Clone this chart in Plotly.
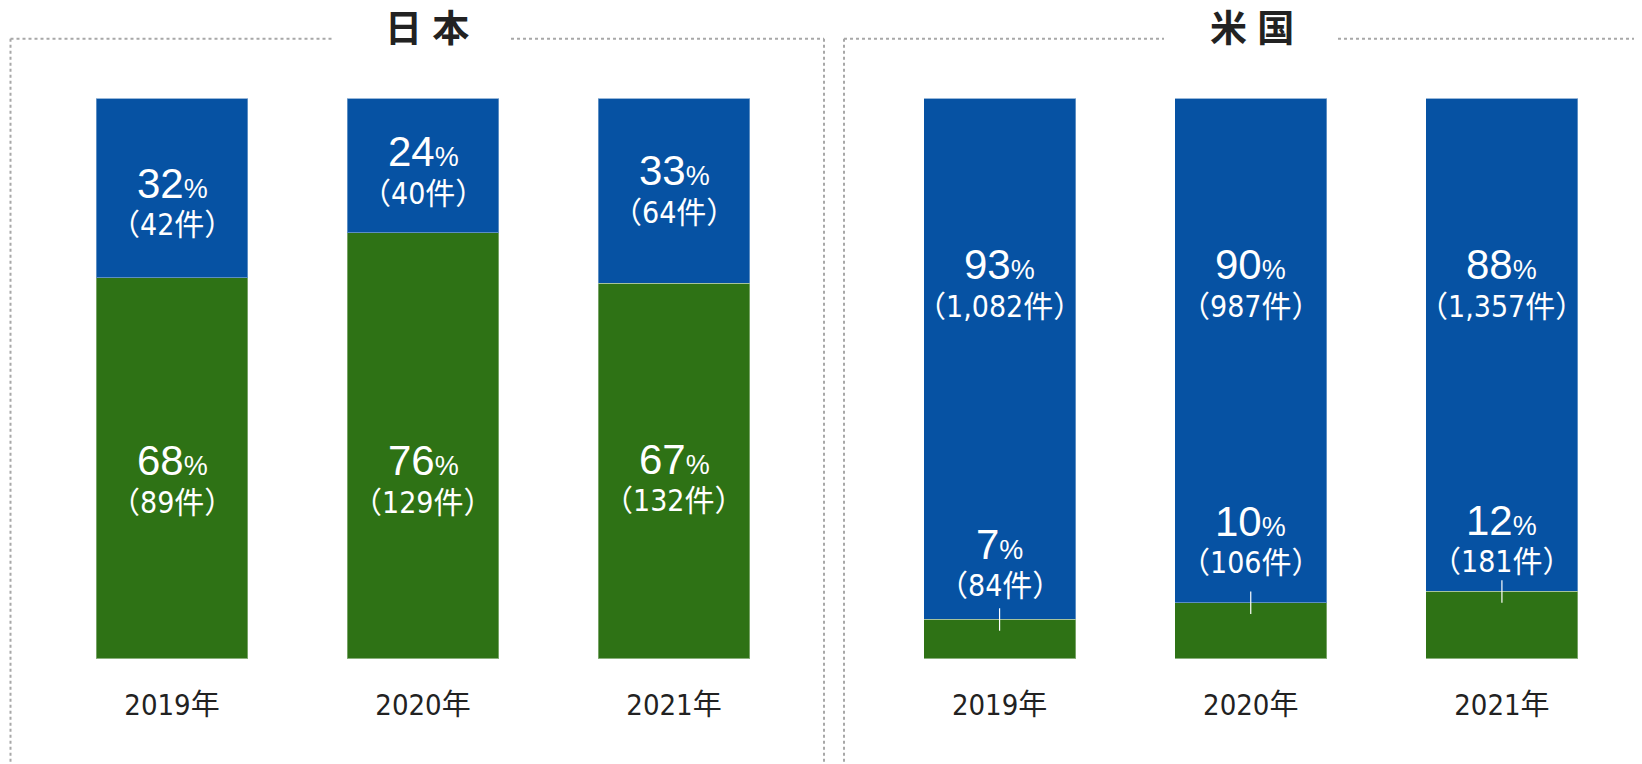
import plotly.graph_objects as go

# ---------------- data ----------------
years = ["2019年", "2020年", "2021年"]
jp_green_pct = [68, 76, 67]
jp_green_cnt = [89, 129, 132]
jp_blue_pct = [32, 24, 33]
jp_blue_cnt = [42, 40, 64]
us_green_pct = [7, 10, 12]
us_green_cnt = [84, 106, 181]
us_blue_pct = [93, 90, 88]
us_blue_cnt = [1082, 987, 1357]

# ---------------- label placement (layout only) ----------------
jp_green_label_y = [35.3, 35.3, 35.6]
jp_blue_label_y = [84.9, 90.5, 87.1]
us_blue_label_y = [70.3, 70.3, 70.3]
us_green_label_y = [20.4, 24.5, 24.7]
LINE_GAP = 7.4

GREEN = "#2E7215"
BLUE = "#0652A3"
FONT = "Liberation Sans, Arial, Noto Sans CJK JP, sans-serif"
NARROW = "Liberation Sans Narrow, Arial Narrow, DejaVu Sans Condensed, Noto Sans CJK JP, sans-serif"
W, H = 1642, 764
OFF = 8  # page body margin


def px(x):
    return (x - OFF) / W


def py(y):
    return 1 - (y - OFF) / H


xpos = [0, 1, 2]

fig = go.Figure()
for xa, ya, g, b in [("x", "y", jp_green_pct, jp_blue_pct), ("x2", "y2", us_green_pct, us_blue_pct)]:
    fig.add_trace(go.Bar(x=xpos, y=g, marker=dict(color=GREEN, line=dict(color="rgba(255,255,255,0.35)", width=1)),
                         width=0.605, xaxis=xa, yaxis=ya, hoverinfo="skip", showlegend=False))
    fig.add_trace(go.Bar(x=xpos, y=b, marker=dict(color=BLUE, line=dict(color="rgba(255,255,255,0.35)", width=1)),
                         width=0.605, xaxis=xa, yaxis=ya, hoverinfo="skip", showlegend=False))

annotations = []
shapes = []


def add_label(xref, yref, x, y, pct, cnt):
    annotations.append(dict(
        x=x, y=y, xref=xref, yref=yref, showarrow=False, yanchor="middle",
        text=f"{pct}<span style='font-size:27px'>%</span>",
        font=dict(family=FONT, size=42, color="white")))
    annotations.append(dict(
        x=x, y=y - LINE_GAP, xref=xref, yref=yref, showarrow=False, yanchor="middle",
        text=f"（{cnt:,}件）",
        font=dict(family=NARROW, size=30, color="white")))


for i in range(3):
    add_label("x", "y", xpos[i], jp_green_label_y[i], jp_green_pct[i], jp_green_cnt[i])
    add_label("x", "y", xpos[i], jp_blue_label_y[i], jp_blue_pct[i], jp_blue_cnt[i])
    add_label("x2", "y2", xpos[i], us_blue_label_y[i], us_blue_pct[i], us_blue_cnt[i])
    add_label("x2", "y2", xpos[i], us_green_label_y[i], us_green_pct[i], us_green_cnt[i])
    shapes.append(dict(type="line", xref="x2", yref="y2", x0=xpos[i], x1=xpos[i],
                       y0=us_green_pct[i] - 2, y1=us_green_pct[i] + 2,
                       line=dict(color="white", width=1.2)))

# panel titles
for cx, t in [(426.5, "日 本"), (1252, "米 国")]:
    annotations.append(dict(x=px(cx), y=py(30), xref="paper", yref="paper", showarrow=False,
                            xanchor="center", yanchor="middle", borderpad=0,
                            text=f"<b>{t}</b>",
                            font=dict(family="Liberation Sans, Noto Sans CJK JP", size=37, color="#222222")))

# dotted frames
dot = dict(color="#A8A8A8", width=2, dash="dot")
top = 38.7
segs = [
    (10.5, 333, top, top), (511, 824, top, top),
    (10.5, 10.5, top, 780), (824, 824, top, 780),
    (844, 1164, top, top), (1338, 1660, top, top),
    (844, 844, top, 780),
]
for x0, x1, y0, y1 in segs:
    shapes.append(dict(type="line", xref="paper", yref="paper", x0=px(x0), x1=px(x1), y0=py(y0), y1=py(y1), line=dot))

ydom = [py(658.7), py(98.4)]
xcommon = dict(range=[-0.5, 2.5], tickvals=xpos, ticktext=years, showgrid=False, zeroline=False,
               showline=False, ticks="", ticklabelstandoff=26,
               tickfont=dict(family=NARROW, size=29, color="#222222"), fixedrange=True)
ycommon = dict(range=[0, 100], visible=False, fixedrange=True)

fig.update_layout(
    width=W, height=H, barmode="stack",
    margin=dict(l=0, r=0, t=0, b=0),
    paper_bgcolor="white", plot_bgcolor="white",
    xaxis=dict(domain=[px(46.5), px(799.5)], anchor="y", **xcommon),
    xaxis2=dict(domain=[px(874), px(1627.5)], anchor="y2", **xcommon),
    yaxis=dict(domain=ydom, anchor="x", **ycommon),
    yaxis2=dict(domain=ydom, anchor="x2", **ycommon),
    annotations=annotations, shapes=shapes,
)

fig.write_html("out.html")
